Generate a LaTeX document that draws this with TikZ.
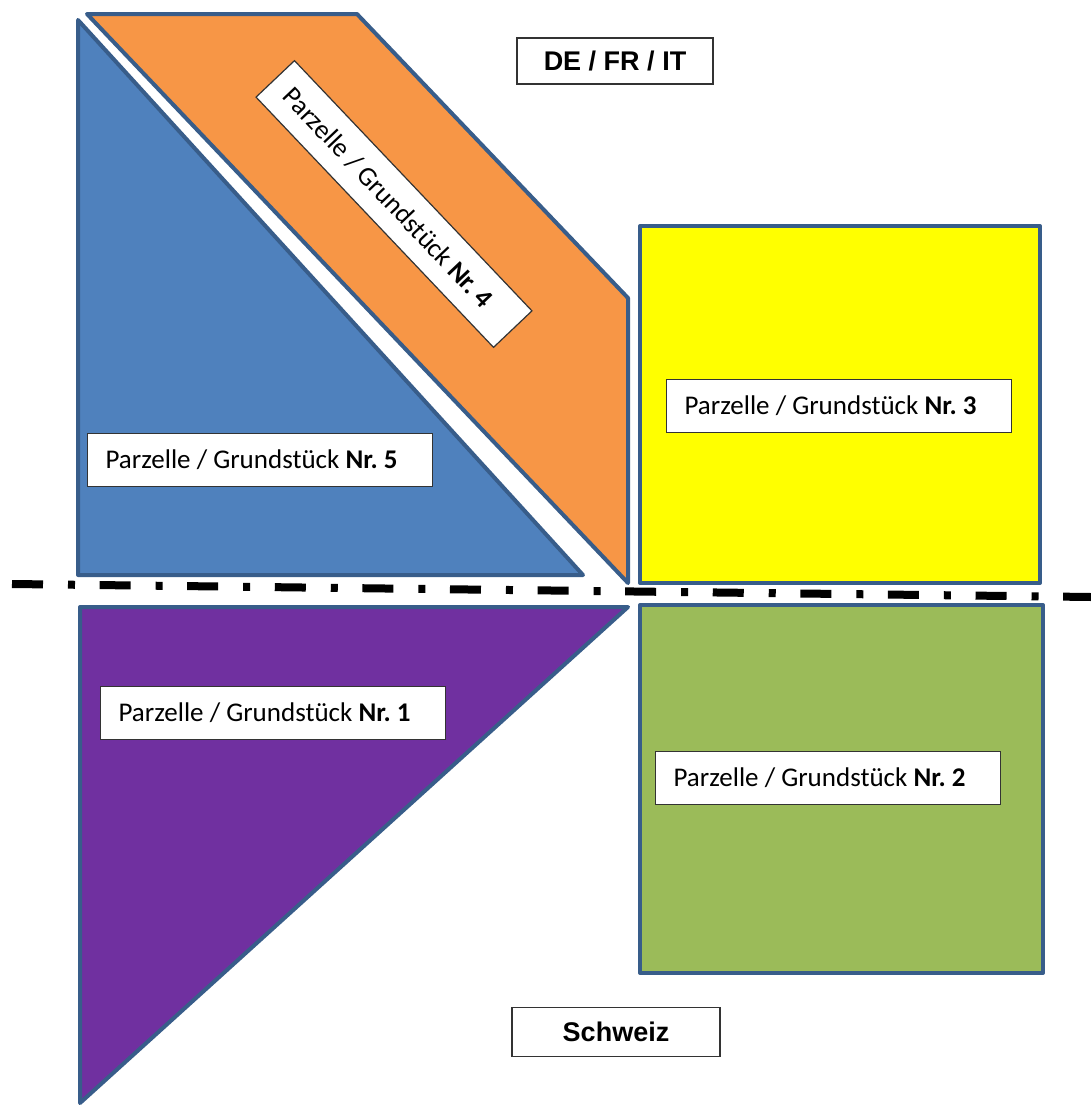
\documentclass[tikz,border=0pt]{standalone}
\usepackage{fontspec}
\setmainfont{Carlito}
\newfontfamily\arialfont{Liberation Sans}
\frenchspacing
\definecolor{plotline}{HTML}{385D8A}
\definecolor{plotblue}{HTML}{4F81BD}
\definecolor{plotorange}{HTML}{F79646}
\definecolor{plotyellow}{HTML}{FFFF00}
\definecolor{plotgreen}{HTML}{9BBB59}
\definecolor{plotpurple}{HTML}{7030A0}
\newcommand{\plottext}[1]{\makebox[309pt][l]{Parzelle / Grundstück \textbf{Nr. #1}}}
\tikzset{plot/.style={draw=plotline,line width=4pt,line join=round},
	 lbox/.style={draw=black!80,fill=white,line width=1.2pt,inner xsep=18pt,minimum height=53pt,anchor=north west,font=\fontsize{27}{31}\selectfont},
	 tbox/.style={draw=black!80,fill=white,line width=1.2pt,font=\arialfont\bfseries\fontsize{27}{31}\selectfont},
	 border/.style={line width=8pt,dash pattern=on 31pt off 25pt on 7pt off 24.6pt}
	 }

\begin{document}
\begin{tikzpicture}[x=1pt,y=-1pt] % parcels on both sides of the border
	\useasboundingbox (0,0) rectangle (1091,1106);
	% parcels
	\fill[plotblue,plot] (78,20) -- (78,575) -- (583,575) -- cycle;
	\fill[plotorange,plot] (87,14) -- (357,14) -- (628,298) -- (628,583) -- cycle;
	\fill[plotyellow,plot] (640,226) rectangle (1040,583);
	\fill[plotgreen,plot] (640,605) rectangle (1043,973);
	\fill[plotpurple,plot] (80,607) -- (628,607) -- (80,1103) -- cycle;
	% border
	\coordinate (bw) at (12,584);
	\coordinate (be) at (1091,597);
	\draw[border] (bw) -- (be);
	% labels
	\node[tbox,minimum width=196pt,minimum height=46pt] (north) at (615,61) {DE / FR / IT};
	\node[tbox,minimum width=208pt,minimum height=49pt] (south) at (616,1032) {Schweiz};
	\node[lbox] (p5) at (87,433) {\plottext{5}};
	\node[lbox] (p3) at (666,379) {\plottext{3}};
	\node[lbox] (p1) at (100,686) {\plottext{1}};
	\node[lbox] (p2) at (655,751) {\plottext{2}};
	\node[lbox,anchor=center,rotate=-46.5] (p4) at (394,204) {\plottext{4}};
\end{tikzpicture}
\end{document}
